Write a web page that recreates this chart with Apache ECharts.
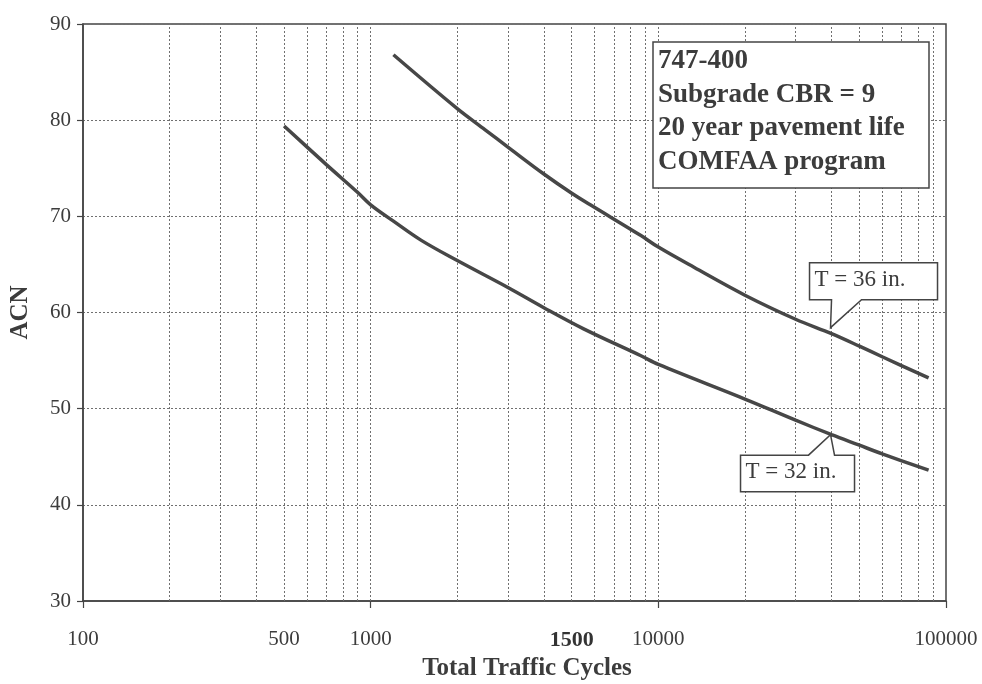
<!DOCTYPE html>
<html>
<head>
<meta charset="utf-8">
<script src="https://cdn.jsdelivr.net/npm/echarts@6/dist/echarts.min.js"></script>
<style>
  html, body { margin: 0; padding: 0; background: #ffffff; }
  #chart { width: 982px; height: 684px; }
</style>
</head>
<body>
<div id="chart"></div>
<script>
// ---- data ----
const cyclesT32 = [500, 700, 900, 1000, 1200, 1500, 2000, 3000, 4000, 5500, 8700, 10000, 20000, 30000, 40000, 50000, 60000, 87000];
const acnT32    = [79.4, 75.4, 72.5, 71.2, 69.5, 67.5, 65.4, 62.6, 60.5, 58.3, 55.5, 54.6, 51.0, 48.8, 47.3, 46.2, 45.3, 43.6];

const cyclesT36 = [1200, 2000, 2500, 3000, 4000, 5000, 5800, 8700, 10000, 13300, 20000, 30000, 40000, 50000, 60000, 87000];
const acnT36    = [86.8, 81.2, 79.0, 77.2, 74.4, 72.4, 71.2, 68.0, 66.8, 64.7, 61.8, 59.3, 57.8, 56.5, 55.4, 53.2];

const xTickValues = [100, 500, 1000, 5000, 10000, 100000];
const xTickLabels = ['100', '500', '1000', '1500', '10000', '100000'];
const xMajorTicks = [100, 1000, 10000, 100000];
const decades = [100, 1000, 10000];
const seriesNames = ['T = 32 in.', 'T = 36 in.'];
const infoLines = ['747-400', 'Subgrade CBR = 9', '20 year pavement life', 'COMFAA program'];
const calloutCycles = 40000;

// gridline positions of a standard log paper (1..9 per decade)
const gridValues = [];
decades.forEach(d => { for (let k = 2; k <= 9; k++) gridValues.push(k * d); });
gridValues.push(1000, 10000);

const FONT = '"Liberation Serif", "Times New Roman", serif';
const TXT = '#3c3c3c';
const LINE = '#474747';

const chart = echarts.init(document.getElementById('chart'), null, { renderer: 'canvas' });

const option = {
  backgroundColor: '#ffffff',
  animation: false,
  grid: { left: 83, right: 36, top: 24, bottom: 83, outerBoundsMode: 'none', containLabel: false,
          show: true, borderColor: '#444', borderWidth: 1.5, backgroundColor: 'transparent' },
  xAxis: {
    type: 'log', logBase: 10, min: 100, max: 100000,
    name: 'Total Traffic Cycles', nameLocation: 'middle', nameGap: 55,
    nameTextStyle: { fontFamily: FONT, fontWeight: 'bold', fontSize: 25, color: TXT, padding: [0, 0, 0, 25] },
    axisLine: { show: true, lineStyle: { color: '#444', width: 1.5 } },
    axisTick: { show: true, customValues: xMajorTicks, length: 7, lineStyle: { color: '#444', width: 1.2 } },
    axisLabel: {
      customValues: xTickValues, margin: 28, fontFamily: FONT, fontSize: 21, color: TXT,
      formatter: v => {
        const i = xTickValues.findIndex(t => Math.abs(t - v) / t < 1e-6);
        const s = i >= 0 ? xTickLabels[i] : '';
        return s === '1500' ? '{b|' + s + '}' : s;
      },
      rich: { b: { fontFamily: FONT, fontSize: 22, fontWeight: 'bold', color: '#333' } }
    },
    splitLine: { show: false },
    minorTick: { show: false }, minorSplitLine: { show: false }
  },
  yAxis: {
    type: 'value', min: 30, max: 90, interval: 10,
    name: 'ACN', nameLocation: 'middle', nameGap: 50, nameRotate: 90,
    nameTextStyle: { fontFamily: FONT, fontWeight: 'bold', fontSize: 25, color: TXT },
    axisLine: { show: true, lineStyle: { color: '#444', width: 1.5 } },
    axisTick: { show: true, length: 6, lineStyle: { color: '#444', width: 1.2 } },
    axisLabel: { margin: 12, fontFamily: FONT, fontSize: 21, color: TXT },
    splitLine: { show: true, lineStyle: { color: '#707070', width: 1, type: [2, 2] } }
  },
  series: [
    {
      name: seriesNames[0], type: 'line', smooth: 0.35, symbol: 'none',
      lineStyle: { color: LINE, width: 3.5 },
      data: cyclesT32.map((c, i) => [c, acnT32[i]]),
      z: 3,
      markLine: {
        silent: true, symbol: 'none', animation: false,
        label: { show: false },
        lineStyle: { color: '#707070', width: 1, type: [2, 2] },
        data: gridValues.map(v => ({ xAxis: v })),
        z: 1
      }
    },
    {
      name: seriesNames[1], type: 'line', smooth: 0.35, symbol: 'none',
      lineStyle: { color: LINE, width: 3.5 },
      data: cyclesT36.map((c, i) => [c, acnT36[i]]),
      z: 3
    }
  ]
};
chart.setOption(option);

// ---- annotations anchored to the curves via the chart's own scales ----
const yAt = (xs, ys, x) => ys[xs.indexOf(x)];
const a36 = chart.convertToPixel({ gridIndex: 0 }, [calloutCycles, yAt(cyclesT36, acnT36, calloutCycles)]);
const a32 = chart.convertToPixel({ gridIndex: 0 }, [calloutCycles, yAt(cyclesT32, acnT32, calloutCycles)]);

function callout36(ax, ay) {
  const L = ax - 22, R = ax + 106, T = ay - 71, B = ay - 34;
  return [
    { type: 'polygon', z: 10, shape: { points: [[L, T], [R, T], [R, B], [ax + 30, B], [ax - 1, ay - 6], [ax, B], [L, B]] },
      style: { fill: '#fff', stroke: '#444', lineWidth: 1.5 } },
    { type: 'text', z: 11, x: ax - 17, y: ay - 53.5,
      style: { text: seriesNames[1], font: '23px ' + FONT, fill: TXT, verticalAlign: 'middle', align: 'left' } }
  ];
}
function callout32(ax, ay) {
  const L = ax - 91, R = ax + 23, T = ay + 20.5, B = ay + 57;
  return [
    { type: 'polygon', z: 10, shape: { points: [[L, T], [ax - 23, T], [ax - 1, ay], [ax + 3, T], [R, T], [R, B], [L, B]] },
      style: { fill: '#fff', stroke: '#444', lineWidth: 1.5 } },
    { type: 'text', z: 11, x: ax - 86, y: ay + 37,
      style: { text: seriesNames[0], font: '23px ' + FONT, fill: TXT, verticalAlign: 'middle', align: 'left' } }
  ];
}

const infoGraphic = [
  { type: 'rect', z: 10, shape: { x: 653, y: 42, width: 276, height: 146 },
    style: { fill: '#fff', stroke: '#444', lineWidth: 1.5 } }
].concat(infoLines.map((t, i) => ({
  type: 'text', z: 11, x: 658, y: 61 + i * 33.6,
  style: { text: t, font: 'bold 27px ' + FONT, fill: TXT, verticalAlign: 'middle', align: 'left' }
})));

chart.setOption({ graphic: infoGraphic.concat(callout36(a36[0], a36[1]), callout32(a32[0], a32[1])) });
</script>
</body>
</html>
